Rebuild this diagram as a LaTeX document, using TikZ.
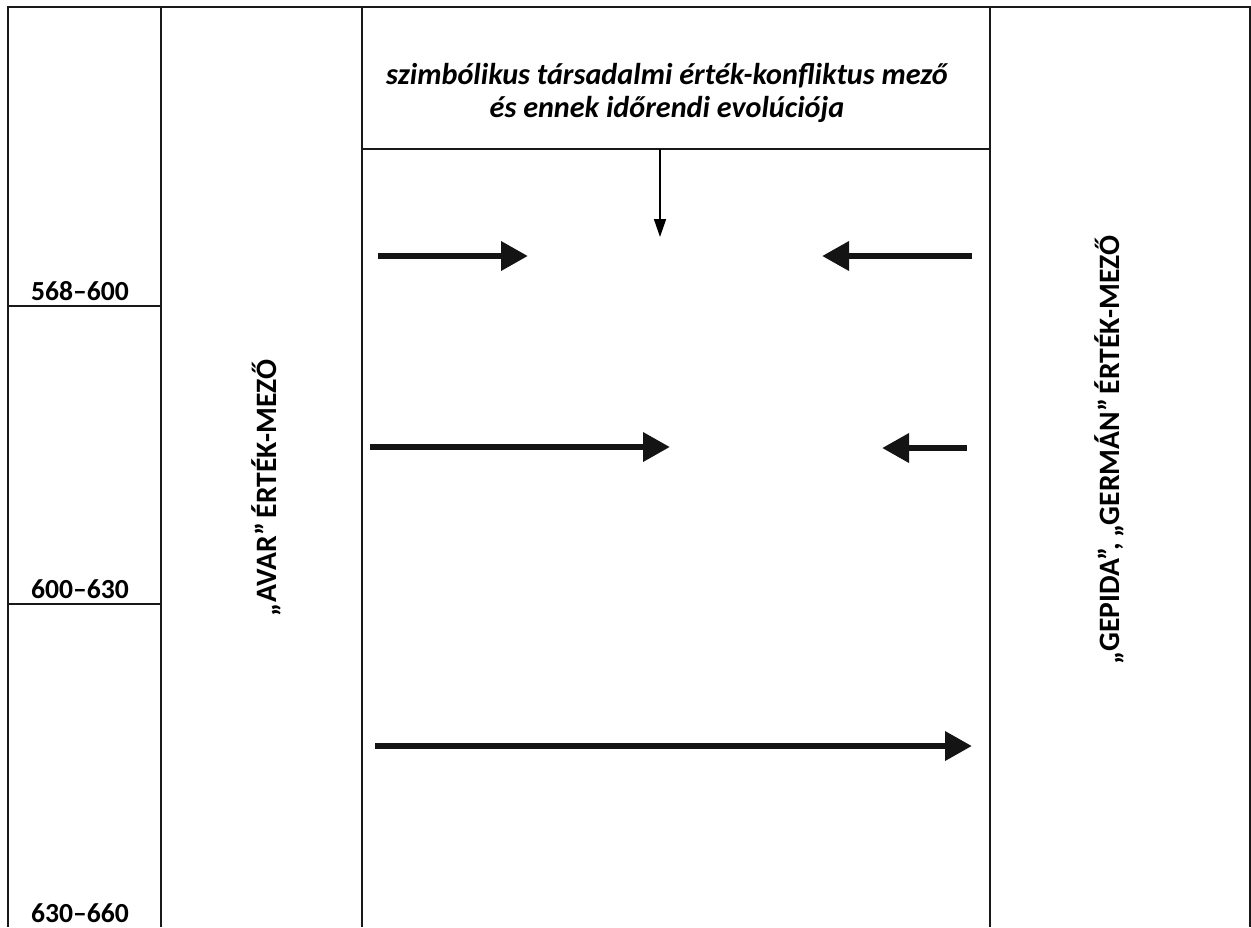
\documentclass[tikz,border=0pt]{standalone}
\usepackage{fontspec}
\setmainfont{Carlito}
\usetikzlibrary{arrows.meta}

\begin{document}
\begin{tikzpicture}[x=0.5pt, y=-0.5pt,
    frame/.style={line width=1pt, draw=black!90},
    date/.style={font=\bfseries\fontsize{13.8}{16}\selectfont, anchor=base},
    field/.style={font=\bfseries\fontsize{14.8}{17}\selectfont, rotate=90, anchor=base},
    push/.style={line width=3.3pt, draw=black!92, -{Triangle[length=13.5pt,width=14pt]}}]

    \useasboundingbox (0,0) rectangle (1251,927);

    % Frame
    \draw[frame] (8,927) -- (8,7) -- (1250,7) -- (1250,927);
    \foreach \x in {161,362,990}
        \draw[frame] (\x,7) -- (\x,927);
    \draw[frame] (362,149) -- (990,149);
    \draw[frame] (8,306) -- (161,306);
    \draw[frame] (8,604) -- (161,604);

    % Nodes
    \node[date] (d1) at (80,300) {568–600};
    \node[date] (d2) at (80,598) {600–630};
    \node[date] (d3) at (80,922) {630–660};
    \node[field] (avar) at (276,488) {„AVAR”\,ÉRTÉK-MEZŐ};
    \node[field] (gepida) at (1119,450) {„GEPIDA”,\,„GERMÁN”\,ÉRTÉK-MEZŐ};
    \node[align=center, font=\bfseries\itshape\fontsize{15.1}{16.5}\selectfont] (header) at (667,93)
        {szimbólikus társadalmi érték-konfliktus mező\\és ennek időrendi evolúciója};

    % Arrow ends
    \coordinate (h0) at (660,149);  \coordinate (h1) at (660,237);
    \coordinate (a0) at (378,256);  \coordinate (a1) at (528,256);
    \coordinate (g0) at (972,256);  \coordinate (g1) at (822,256);
    \coordinate (b0) at (370,447);  \coordinate (b1) at (670,447);
    \coordinate (k0) at (967,448);  \coordinate (k1) at (882,448);
    \coordinate (c0) at (375,746);  \coordinate (c1) at (972,746);

    % Arrows
    \draw[line width=0.8pt, -{Triangle[length=9pt,width=6pt]}] (h0) -- (h1);
    \draw[push] (a0) -- (a1);
    \draw[push] (g0) -- (g1);
    \draw[push] (b0) -- (b1);
    \draw[push] (k0) -- (k1);
    \draw[push] (c0) -- (c1);

\end{tikzpicture}
\end{document}
